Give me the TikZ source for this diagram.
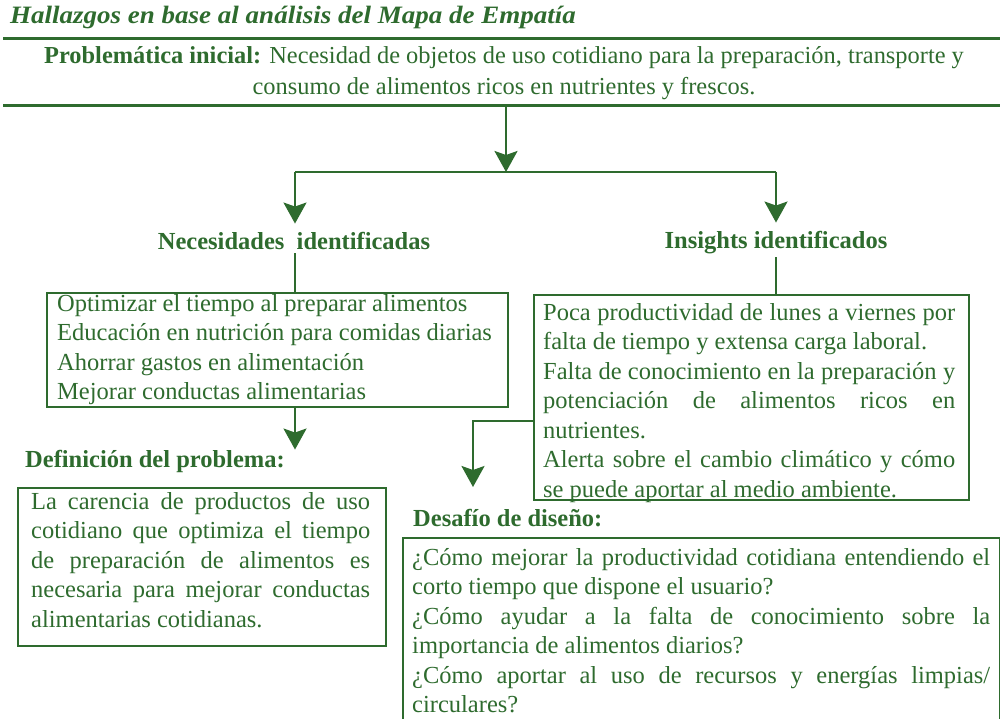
\documentclass[tikz,border=0pt]{standalone}
\usepackage{fontspec}
\setmainfont{Liberation Serif}
\usetikzlibrary{arrows.meta}
\definecolor{vd}{RGB}{46,107,46}
\newcommand{\jl}[1]{\hbox to\hsize{#1}\par}
\newcommand{\bodyfont}{\fontsize{24.5}{29.5}\selectfont}
\newcommand{\para}[2]{\vtop{\hsize=#1\parindent=0pt\parskip=0pt\bodyfont #2}}
\tikzset{
  lin/.style={draw=vd, line width=2.4pt},
  arr/.style={lin, -{Stealth[width=23pt,length=21pt,inset=4pt]}},
  box/.style={draw=vd, line width=2.4pt, rectangle, inner sep=0pt, anchor=north west},
  txt/.style={inner sep=0pt, text=vd},
  hdr/.style={inner sep=0pt, text=vd, font=\bfseries\fontsize{24.5}{29}\selectfont},
  rule/.style={draw=vd, line width=3pt},
}
\begin{document}
\begin{tikzpicture}[x=1pt,y=-1pt]
\useasboundingbox (0,0) rectangle (1000,719);
% title
\node[hdr, anchor=base west, xscale=1.08, transform shape, font=\bfseries\itshape\fontsize{25}{29}\selectfont] (title) at (10,24) {Hallazgos en base al análisis del Mapa de Empatía};
\coordinate (r1a) at (3,39); \coordinate (r1b) at (1000,39);
\coordinate (r2a) at (3,106); \coordinate (r2b) at (1000,106);
\draw[rule] (r1a) -- (r1b);
\draw[rule] (r2a) -- (r2b);
% problematica
\node[txt, anchor=base] (prob) at (504,64) {\vtop{\hsize=1000pt\parindent=0pt\parskip=0pt\fontsize{24.4}{31}\selectfont\centering
{\bfseries Problemática inicial:} Necesidad de objetos de uso cotidiano para la preparación, transporte y\par
consumo de alimentos ricos en nutrientes y frescos.\par}};
% split
\coordinate (pb) at (506,106);
\coordinate (split) at (506,172);
\coordinate (hl) at (295,172);
\coordinate (hr) at (776,172);
% headers
\node[hdr, anchor=base] (necH) at (294,249) {Necesidades\ \ identificadas};
\node[hdr, anchor=base] (insH) at (776,248) {Insights identificados};
\draw[arr] (pb) -- (split);
\draw[lin] (hl) -- (hr);
\draw[arr, shorten >=8pt] (hl) -- (hl |- necH.north);
\draw[arr, shorten >=8pt] (hr) -- (hr |- insH.north);
% necesidades box
\node[box, minimum width=461pt, minimum height=114pt] (nec) at (46,292) {};
\node[txt, anchor=base west] (necT) at (57,311) {\para{440pt}{%
Optimizar el tiempo al preparar alimentos\par
Educación en nutrición para comidas diarias\par
Ahorrar gastos en alimentación\par
Mejorar conductas alimentarias\par}};
\draw[lin] (hl |- 0,253) -- (hl |- nec.north);
% insights box
\node[box, minimum width=435pt, minimum height=205pt] (ins) at (533,294) {};
\node[txt, anchor=base west] (insT) at (543,320) {\para{412pt}{%
\jl{Poca productividad de lunes a viernes por}
falta de tiempo y extensa carga laboral.\par
\jl{Falta de conocimiento en la preparación y}
\jl{potenciación de alimentos ricos en}
nutrientes.\par
\jl{Alerta sobre el cambio climático y cómo}
se puede aportar al medio ambiente.\par}};
\draw[lin] (hr |- 0,257) -- (hr |- ins.north);
% definicion
\node[hdr, anchor=base west] (defH) at (25,467) {Definición del problema:};
\draw[arr] (hl |- nec.south) -- (hl |- defH.north);
\node[box, minimum width=368pt, minimum height=158pt] (def) at (17,487) {};
\node[txt, anchor=base west] (defT) at (31,509) {\para{339pt}{%
\jl{La carencia de productos de uso}
\jl{cotidiano que optimiza el tiempo}
\jl{de preparación de alimentos es}
\jl{necesaria para mejorar conductas}
alimentarias cotidianas.\par}};
% desafio
\node[hdr, anchor=base west] (desH) at (413,526) {Desafío de diseño:};
\coordinate (insOut) at (533,421);
\coordinate (desIn) at (473,487);
\draw[arr] (insOut) -| (desIn);
\node[box, minimum width=597pt, minimum height=200pt] (des) at (402,537) {};
\node[txt, anchor=base west] (desT) at (412,565) {\para{578pt}{%
\jl{¿Cómo mejorar la productividad cotidiana entendiendo el}
corto tiempo que dispone el usuario?\par
\jl{¿Cómo ayudar a la falta de conocimiento sobre la}
importancia de alimentos diarios?\par
\jl{¿Cómo aportar al uso de recursos y energías limpias/}
circulares?\par}};
\end{tikzpicture}
\end{document}
